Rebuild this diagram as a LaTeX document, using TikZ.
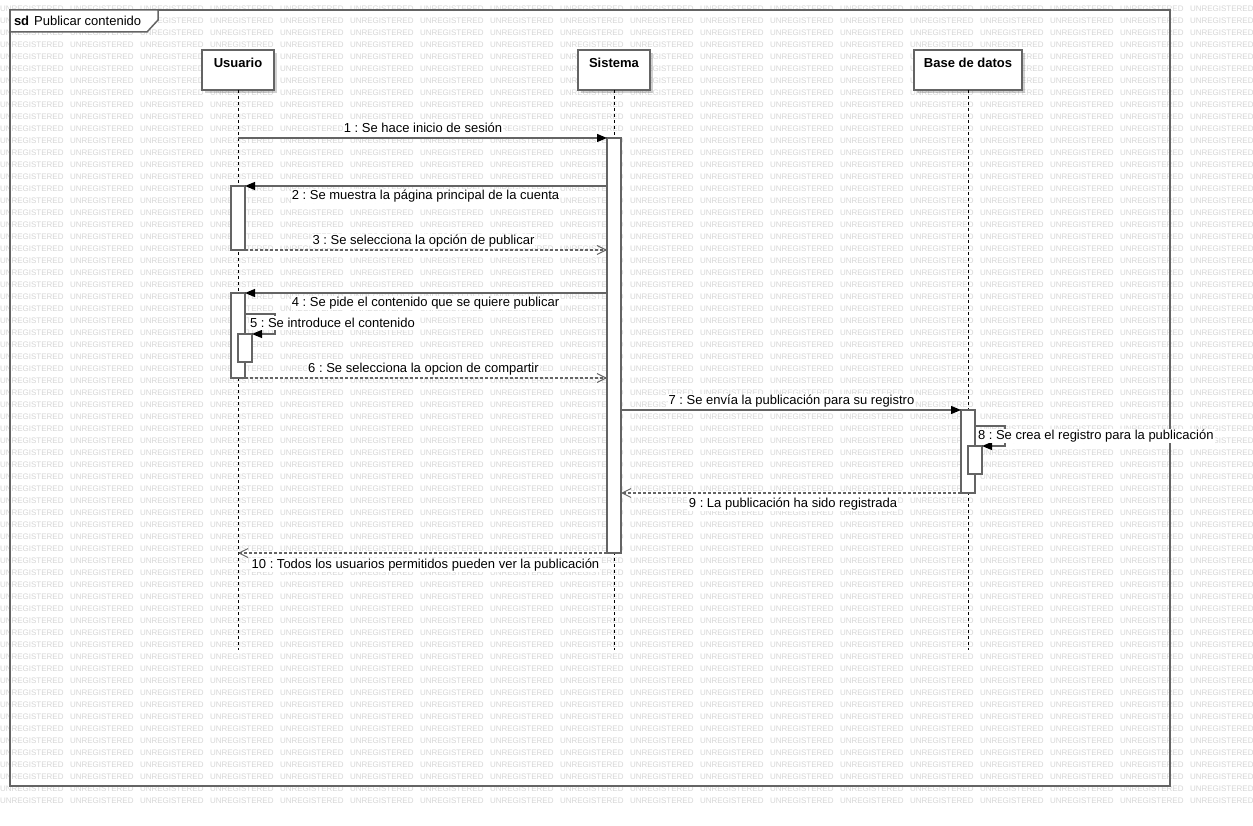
\documentclass[tikz,border=0pt]{standalone}
\usepackage{fontspec}
\setmainfont{Liberation Sans}
\usetikzlibrary{arrows.meta,calc,shadows}
\definecolor{wm}{RGB}{214,214,214}
\definecolor{ln}{RGB}{100,100,100}
\frenchspacing
\begin{document}
\frenchspacing
\begin{tikzpicture}[x=1pt,y=-1pt,
  every node/.style={inner sep=0pt, outer sep=0pt},
  wmark/.style={anchor=west, font=\fontsize{8}{9}\selectfont, text=wm},
  head/.style={draw=ln, line width=1.2pt, fill=white, minimum height=40pt,
    drop shadow={shadow xshift=3pt, shadow yshift=-3pt, opacity=0.18, fill=black}},
  headtxt/.style={font=\fontsize{13}{15}\selectfont\bfseries},
  act/.style={draw=ln, line width=1.2pt, fill=white, minimum width=14pt},
  life/.style={draw=black, line width=0.8pt, dash pattern=on 3pt off 3pt},
  msg/.style={draw=ln, line width=1.2pt, -{Triangle[length=10pt,width=8pt,black]}},
  ret/.style={draw=ln, line width=1.2pt, dash pattern=on 3pt off 2pt, -{Straight Barb[length=9pt,width=9pt,line width=0.9pt]}},
  lbl/.style={font=\fontsize{13}{15}\selectfont, fill=white, inner sep=1pt, text height=9.5pt, text depth=2.5pt},
  frm/.style={draw=ln, line width=1.5pt}
]
\useasboundingbox (0,0) rectangle (1253,826);
\fill[white] (0,0) rectangle (1253,826);
% watermark
\foreach \i in {0,...,17}{
  \foreach \j in {0,...,66}{
    \node[wmark] at (70*\i, 8.5+12*\j) {UNREGISTERED};
  }
}
% frame
\draw[frm] (10,10) rectangle (1170,786);
\draw[frm, fill=white] (10,10) -- (158,10) -- (158,20) -- (147,32) -- (10,32) -- cycle;
\node[anchor=west, font=\fontsize{13}{15}\selectfont] (title) at (14,21) {\textbf{sd}\hspace{5pt}Publicar contenido};
% lifeline heads
\node[head, minimum width=72pt] (usr) at (238,70) {};
\node[head, minimum width=72pt] (sys) at (614,70) {};
\node[head, minimum width=108pt] (bd) at (968,70) {};
\node[headtxt] (usrt) at (238,63) {Usuario};
\node[headtxt] (syst) at (614,63) {Sistema};
\node[headtxt] (bdt) at (968,63) {Base de datos};
% lifelines
\draw[life] (usr.south) -- ++(0,560) coordinate (usrend);
\draw[life] (sys.south) -- ++(0,560) coordinate (sysend);
\draw[life] (bd.south) -- ++(0,560) coordinate (bdend);
% activations
\node[act, minimum height=415pt] (sysact) at (614,345.5) {};
\node[act, minimum height=64pt] (ua1) at (238,218) {};
\node[act, minimum height=85pt] (ua2) at (238,335.5) {};
\node[act, minimum height=28pt] (un) at (245,348) {};
\node[act, minimum height=83pt] (bda) at (968,451.5) {};
\node[act, minimum height=28pt] (bdn) at (975,460) {};
% messages
\draw[msg] (usr.south |- sysact.north) -- (sysact.north west);
\node[lbl] (l1) at (423,129.5) {1 : Se hace inicio de sesión};
\draw[msg] (sysact.west |- ua1.north) -- (ua1.north east);
\node[lbl] (l2) at (425.5,196.5) {2 : Se muestra la página principal de la cuenta};
\draw[ret] (ua1.south east) -- (sysact.west |- ua1.south);
\node[lbl] (l3) at (423.5,241.5) {3 : Se selecciona la opción de publicar};
\draw[msg] (sysact.west |- ua2.north) -- (ua2.north east);
\node[lbl] (l4) at (425.5,303.5) {4 : Se pide el contenido que se quiere publicar};
\draw[msg] (ua2.east |- un.north) ++(0,-20) -- ++(30,0) |- (un.north east);
\node[lbl, anchor=west] (l5) at (249,323.5) {5 : Se introduce el contenido};
\draw[ret] (ua2.south east) -- (sysact.west |- ua2.south);
\node[lbl] (l6) at (423.5,368.5) {6 : Se selecciona la opcion de compartir};
\draw[msg] (sysact.east |- bda.north) -- (bda.north west);
\node[lbl] (l7) at (791.5,400.5) {7 : Se envía la publicación para su registro};
\draw[msg] (bda.east |- bdn.north) ++(0,-20) -- ++(30,0) |- (bdn.north east);
\node[lbl, anchor=west] (l8) at (977,435.5) {8 : Se crea el registro para la publicación};
\draw[ret] (bda.south west) -- (sysact.east |- bda.south);
\node[lbl] (l9) at (793,503.5) {9 : La publicación ha sido registrada};
\draw[ret] (sysact.south west) -- (usr.south |- sysact.south);
\node[lbl] (l10) at (425.5,564.5) {10 : Todos los usuarios permitidos pueden ver la publicación};
\end{tikzpicture}
\end{document}
